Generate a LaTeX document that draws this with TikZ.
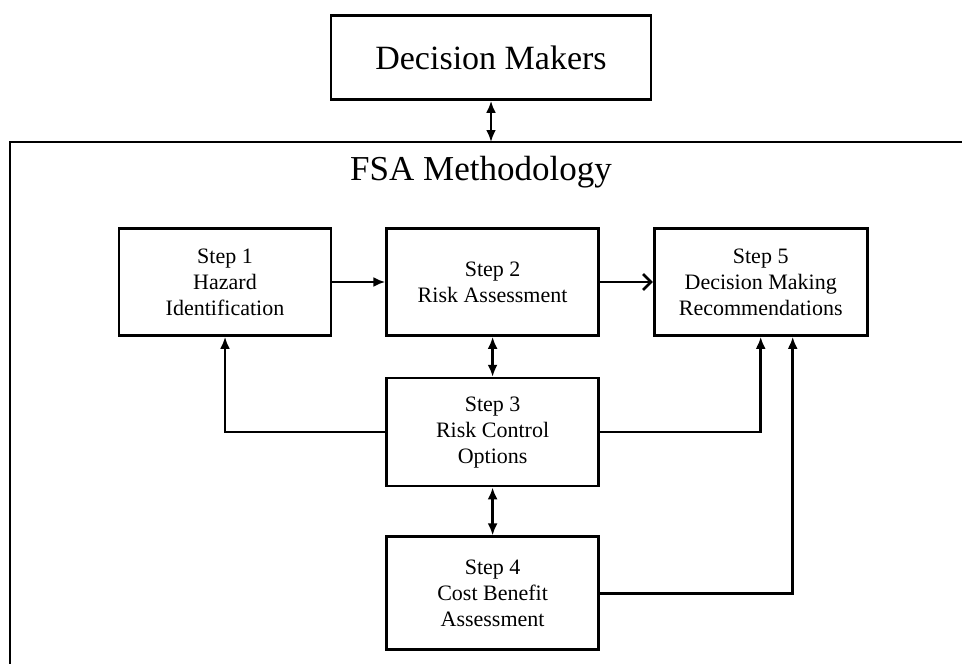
\documentclass[tikz,border=0pt]{standalone}
\usepackage{fontspec}
\setmainfont{Liberation Serif}
\usetikzlibrary{positioning,arrows.meta}

\tikzset{
  stepbox/.style={draw, line width=2.6pt, align=center, minimum width=212pt,
    minimum height=107pt, inner sep=2pt, font=\fontsize{22}{26}\selectfont},
  topbox/.style={draw, line width=2.6pt, align=center, minimum width=320pt,
    minimum height=84pt, font=\fontsize{34}{40}\selectfont},
  link/.style={line width=2.6pt, -{Latex[length=12pt,width=10pt]}},
  twoway/.style={line width=2.6pt, {Latex[length=12pt,width=10pt]}-{Latex[length=12pt,width=10pt]}}
}

\begin{document}
\begin{tikzpicture}[x=1pt, y=-1pt]
  \useasboundingbox (0,0) rectangle (962,664);
  \clip (0,0) rectangle (962,664);
  % outer frame, cut off at right and bottom
  \draw[line width=2.2pt] (975,142) -- (10,142) -- (10,690);
  \coordinate (fsatop) at (491,142);
  \node[font=\fontsize{35}{40}\selectfont] (fsa) at (481,172) {FSA Methodology};

  \node[topbox] (dm) at (491,57.5) {Decision Makers};
  \node[stepbox] (s1) at (225,282) {Step 1\\ Hazard\\ Identification};
  \node[stepbox, right=53pt of s1] (s2) {Step 2\\ Risk Assessment};
  \node[stepbox, right=53pt of s2, minimum width=213pt] (s5) {Step 5\\ Decision Making\\ Recommendations};
  \node[stepbox, below=40pt of s2, minimum height=108pt] (s3) {Step 3\\ Risk Control\\ Options};
  \node[stepbox, below=48pt of s3, minimum height=113pt] (s4) {Step 4\\ Cost Benefit\\ Assessment};

  \draw[twoway] (dm.south) -- (fsatop);
  \draw[link] (s1) -- (s2);
  \draw[line width=2.6pt, -{Straight Barb[length=8pt,width=16pt]}] (s2) -- (s5);
  \draw[twoway] (s2) -- (s3);
  \draw[twoway] (s3) -- (s4);
  \draw[link] (s3.west) -| (s1.south);
  \draw[link] (s3.east) -| (s5.south);
  \draw[link] (s4.east) -| ([xshift=32pt]s5.south);
\end{tikzpicture}
\end{document}
